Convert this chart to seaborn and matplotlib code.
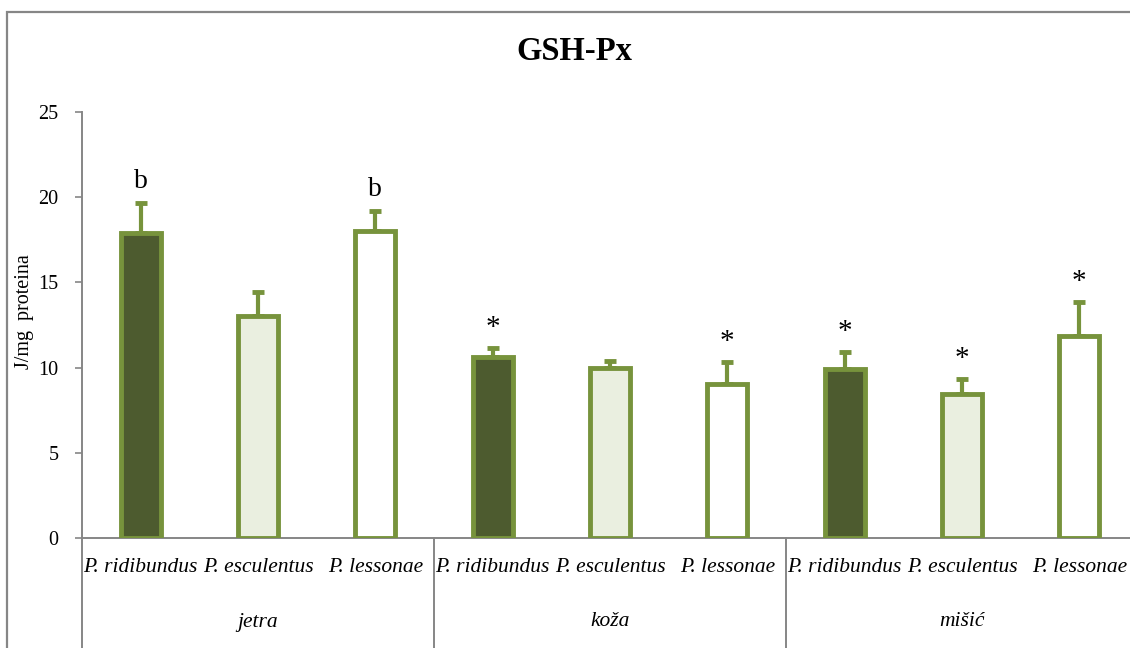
import matplotlib
matplotlib.use("Agg")
import matplotlib.pyplot as plt
from matplotlib.patches import Rectangle
from matplotlib.lines import Line2D
import seaborn as sns
import pandas as pd
import numpy as np

# GSH-Px activity per tissue and species (mean and standard error)
groups = ["jetra", "koža", "mišić"]
species = ["P. ridibundus", "P. esculentus", "P. lessonae"]
jetra_mean = [17.9, 13.0, 18.0]
koza_mean = [10.65, 9.98, 9.04]
misic_mean = [9.94, 8.47, 11.85]
jetra_err = [1.76, 1.44, 1.19]
koza_err = [0.50, 0.41, 1.29]
misic_err = [0.98, 0.88, 2.00]
jetra_sig = ["b", "", "b"]
koza_sig = ["*", "", "*"]
misic_sig = ["*", "*", "*"]
y_ticks = [0, 5, 10, 15, 20, 25]

means = jetra_mean + koza_mean + misic_mean
errs = jetra_err + koza_err + misic_err
sigs = jetra_sig + koza_sig + misic_sig

df = pd.DataFrame({
    "key": [f"{g}|{s}" for g in groups for s in species],
    "group": [g for g in groups for _ in species],
    "species": species * len(groups),
    "value": means,
    "err": errs,
    "sig": sigs,
})

sns.set_theme(style="white")
plt.rcParams["font.family"] = ["Liberation Serif", "DejaVu Serif"]
plt.rcParams["text.color"] = "black"
plt.rcParams["ytick.labelcolor"] = "black"

EDGE = "#77933C"
GREY = "#868686"
palette = {"P. ridibundus": "#4F6228", "P. esculentus": "#EBF1DE", "P. lessonae": "#FFFFFF"}

W, H = 1130, 648
fig = plt.figure(figsize=(W / 100, H / 100), dpi=100)
ax = fig.add_axes([82 / W, (H - 538) / H, (1138 - 82) / W, 426 / H])

sns.barplot(data=df, x="key", y="value", hue="species", palette=palette,
            order=list(df["key"]), dodge=False, width=0.34, legend=False,
            edgecolor=EDGE, linewidth=3.5, ax=ax, zorder=3)

xs = np.arange(len(df))
ax.errorbar(xs, df["value"], yerr=[np.zeros(len(df)), df["err"]], fmt="none",
            ecolor=EDGE, elinewidth=3, capsize=4.5, capthick=3.5, zorder=2)

# significance marks above the error bars
for x, v, e, s in zip(xs, df["value"], df["err"], df["sig"]):
    if s:
        off = 15.5 if s == "b" else 14.5
        ax.annotate(s, (x, v + e), xytext=(0, off), textcoords="offset points",
                    ha="center", va="center", fontsize=21 if s == "*" else 20,
                    color="black")

ax.set_xlim(-0.5, len(df) - 0.5)
ax.set_ylim(0, 25)
ax.set_yticks(y_ticks)
ax.set_yticklabels([str(t) for t in y_ticks], fontsize=14.5, color="black")
ax.set_xticks([])
ax.set_xlabel("")
ax.set_ylabel("")
ax.tick_params(axis="y", direction="out", length=5, width=1.2, color=GREY,
               labelcolor="black", pad=12, left=True)
for side in ("top", "right"):
    ax.spines[side].set_visible(False)
for side in ("left", "bottom"):
    ax.spines[side].set_color(GREY)
    ax.spines[side].set_linewidth(1.4)

# two-level category labels
trans = ax.get_xaxis_transform()
for x, s in zip(xs, df["species"]):
    ax.text(x, -30 / 426, s, transform=trans, ha="center", va="center",
            fontsize=15.5, style="italic", color="black")
for i, g in enumerate(groups):
    ax.text(i * 3 + 1, -84 / 426, g, transform=trans, ha="center", va="center",
            fontsize=15.5, style="italic", color="black")
for b in (-0.5, 2.5, 5.5, 8.5):
    ax.add_line(Line2D([b, b], [0, -0.3], transform=trans, color=GREY,
                       lw=1.4, clip_on=False))

fig.text(574 / W, 1 - 51.5 / H, "GSH-Px", ha="center", va="center",
         fontsize=23.5, fontweight="bold", color="black")
fig.text(25 / W, 1 - 312 / H, "J/mg  proteina", ha="center", va="center",
         rotation=90, fontsize=14.5, color="black")

# chart frame
fig.add_artist(Rectangle((7 / W, -0.2), 2.0, (H - 12) / H + 0.2,
                         transform=fig.transFigure, fill=False,
                         edgecolor=GREY, lw=1.6))

fig.savefig("out.png", dpi=100)
